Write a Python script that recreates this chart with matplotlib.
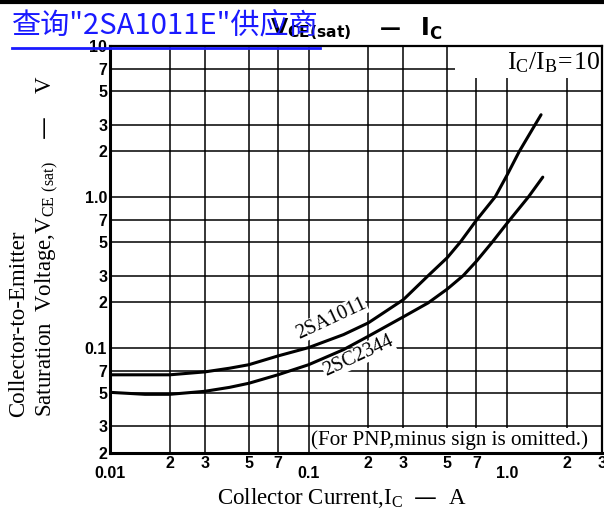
import matplotlib
matplotlib.use("Agg")
import matplotlib.pyplot as plt
from matplotlib.patches import Rectangle
import numpy as np

# collector current (A) and Vce(sat) (V)
ic_a1011 = [0.01, 0.015, 0.02, 0.03, 0.04, 0.05, 0.07, 0.1, 0.15, 0.2, 0.3, 0.4, 0.5, 0.58, 0.7, 0.87, 1.0, 1.15, 1.38, 1.48]
vce_a1011 = [0.066, 0.066, 0.066, 0.069, 0.073, 0.077, 0.088, 0.10, 0.122, 0.146, 0.208, 0.30, 0.396, 0.50, 0.70, 1.0, 1.40, 2.0, 3.0, 3.5]

ic_c2344 = [0.01, 0.015, 0.02, 0.03, 0.04, 0.05, 0.07, 0.1, 0.15, 0.2, 0.3, 0.4, 0.5, 0.6, 0.7, 0.84, 1.0, 1.28, 1.51]
vce_c2344 = [0.0505, 0.049, 0.049, 0.0513, 0.0545, 0.058, 0.066, 0.077, 0.097, 0.119, 0.16, 0.198, 0.245, 0.30, 0.374, 0.50, 0.67, 1.0, 1.35]

y_ticks = [0.02, 0.03, 0.05, 0.07, 0.1, 0.2, 0.3, 0.5, 0.7, 1.0, 2, 3, 5, 7, 10]
y_labels = ["2", "3", "5", "7", "0.1", "2", "3", "5", "7", "1.0", "2", "3", "5", "7", "10"]
x_major = [0.01, 0.1, 1.0]
x_major_labels = ["0.01", "0.1", "1.0"]
x_minor = [0.02, 0.03, 0.05, 0.07, 0.2, 0.3, 0.5, 0.7, 2, 3]
x_minor_labels = ["2", "3", "5", "7", "2", "3", "5", "7", "2", "3"]

W, H = 604, 512
def px(x, y):
    return (x / W, 1 - y / H)

tickfont = dict(family=["Liberation Sans Narrow", "DejaVu Sans Condensed", "Liberation Sans"],
                weight="bold", size=11.5)
serif = ["Liberation Serif", "DejaVu Serif"]

fig = plt.figure(figsize=(6.04, 5.12), dpi=100)
ax = fig.add_axes([110 / W, 1 - 453 / H, 492 / W, 407 / H])
ax.set_xscale("log")
ax.set_yscale("log")
ax.set_xlim(0.01, 3)
ax.set_ylim(0.02, 10)

for t in y_ticks:
    ax.axhline(t, color="black", lw=1.1, zorder=1)
for t in x_major + x_minor:
    ax.axvline(t, color="black", lw=1.1, zorder=1)

ax.plot(ic_a1011, vce_a1011, color="black", lw=2.2, zorder=3, solid_capstyle="round")
ax.plot(ic_c2344, vce_c2344, color="black", lw=2.2, zorder=3, solid_capstyle="round")

ax.set_yticks(y_ticks)
ax.set_yticklabels(y_labels, **tickfont)
ax.yaxis.set_minor_locator(matplotlib.ticker.NullLocator())
ax.set_xticks(x_major)
ax.set_xticklabels(x_major_labels, **tickfont)
ax.set_xticks(x_minor, minor=True)
ax.set_xticklabels(x_minor_labels, minor=True, **tickfont)
ax.tick_params(axis="both", which="both", length=0)
ax.tick_params(axis="y", pad=2)
ax.tick_params(axis="x", which="major", pad=9)
ax.tick_params(axis="x", which="minor", pad=2)
for s in ax.spines.values():
    s.set_linewidth(1.6)
ax.spines["left"].set_linewidth(2.2)
ax.spines["bottom"].set_linewidth(2.2)

# curve labels
ax.text(0.13, 0.155, "2SA1011", family=serif, size=14.5, rotation=25,
        ha="center", va="center", zorder=4,
        bbox=dict(facecolor="white", edgecolor="none", pad=0.3))
ax.text(0.178, 0.088, "2SC2344", family=serif, size=14.5, rotation=25,
        ha="center", va="center", zorder=4,
        bbox=dict(facecolor="white", edgecolor="none", pad=0.3))

# white patches where the original has the grid cleared for the notes
ax.add_patch(Rectangle((0.701, 0.921), 0.299, 0.079, transform=ax.transAxes,
                       facecolor="white", edgecolor="none", zorder=2))
ax.add_patch(Rectangle((0.4065, 0.0), 0.57, 0.061, transform=ax.transAxes,
                       facecolor="white", edgecolor="none", zorder=2))

ax.text(2.92, 7.7, r"$\mathregular{I_C/I_B\!=\!10}$", family=serif, size=18.5,
        ha="right", va="center", zorder=4)
ax.text(2.54, 0.0245, "(For PNP,minus sign is omitted.)", family=serif, size=15.2,
        ha="right", va="center", zorder=4)

# axis titles
fig.text(*px(342, 498), r"Collector Current,$\mathregular{I_C}$  —  A", family=serif,
         size=16.5, ha="center", va="center")
fig.text(*px(19, 417), "Collector-to-Emitter", family=serif, size=16.5,
         rotation=90, ha="center", va="bottom")
fig.text(*px(47, 417), r"Saturation  Voltage,$\mathregular{V_{CE\ (sat)}}$    —    V",
         family=serif, size=16.5, rotation=90, ha="center", va="bottom")

# chart title (partly hidden under the link text)
fig.text(*px(270, 29), r"$\mathbf{V_{CE(sat)}}$", size=16, ha="left", va="center")
fig.text(*px(390, 29), "—", size=15, weight="bold", ha="center", va="center")
fig.text(*px(420, 29), r"$\mathbf{I_C}$", size=17, ha="left", va="center")

# blue link overlay
fig.text(*px(12, 25), "查询\"2SA1011E\"供应商", color="#1a1aff", size=21,
         family=["Noto Sans CJK SC", "DejaVu Sans"], ha="left", va="center")
fig.add_artist(plt.Line2D([12 / W, 320 / W], [1 - 48 / H, 1 - 48 / H],
                          color="#1a1aff", lw=2, transform=fig.transFigure))
fig.add_artist(plt.Line2D([0, 1], [1 - 1.5 / H, 1 - 1.5 / H],
                          color="black", lw=3, transform=fig.transFigure))

fig.savefig("out.png", dpi=100)
